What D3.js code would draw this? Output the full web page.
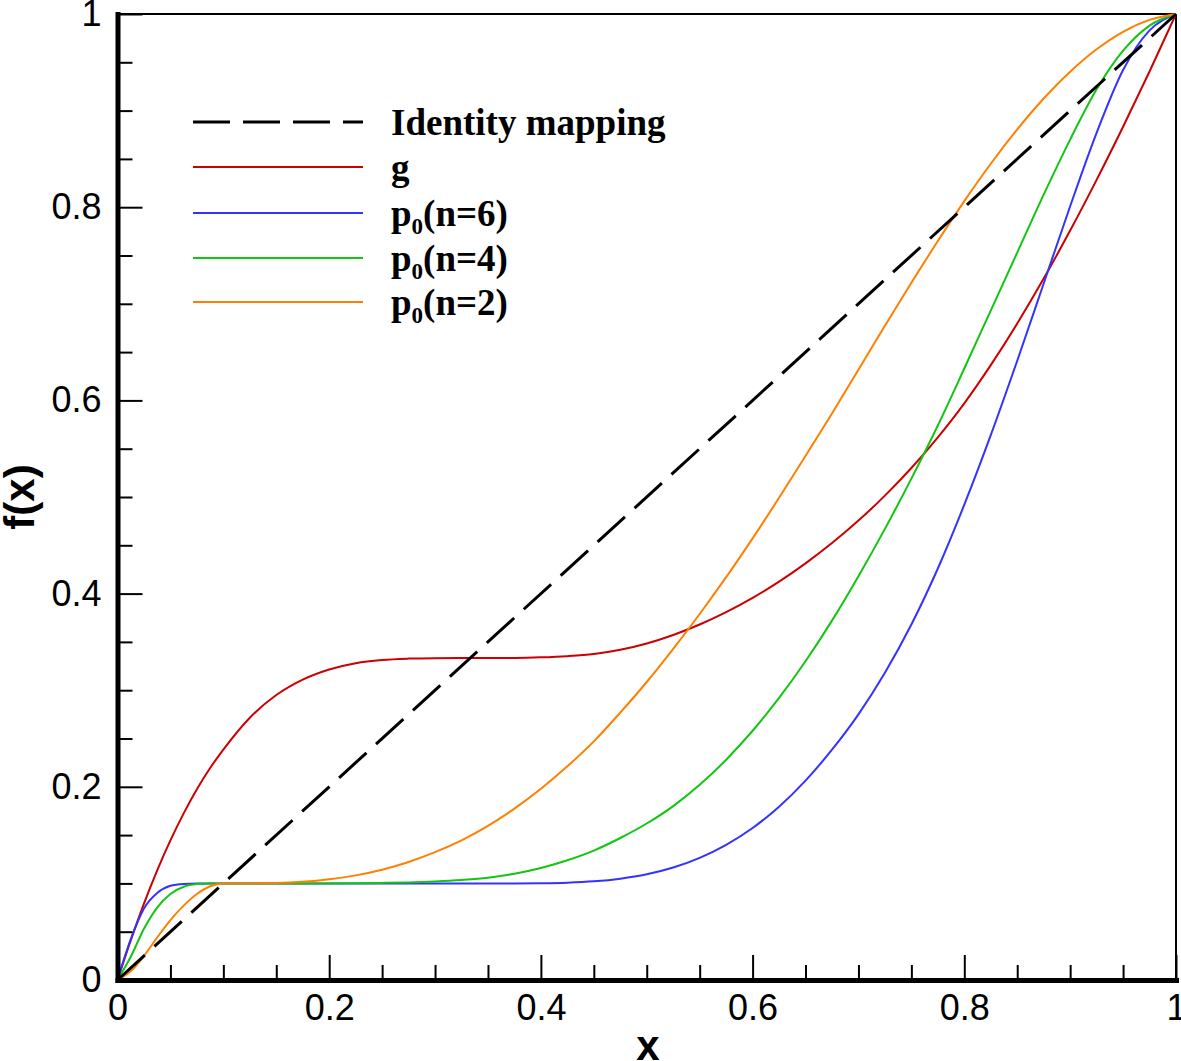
<!DOCTYPE html>
<html>
<head>
<meta charset="utf-8">
<script src="https://cdn.jsdelivr.net/npm/d3@7"></script>
<style>
  html, body { margin: 0; padding: 0; background: #ffffff; }
  svg { display: block; }
</style>
</head>
<body>
<script>
// ---------------- data ----------------
const xGrid = [0, 0.0125, 0.025, 0.0375, 0.05, 0.0625, 0.075, 0.0875,
  0.1, 0.125, 0.15, 0.175, 0.2, 0.225, 0.25, 0.275, 0.3, 0.325, 0.35, 0.375,
  0.4, 0.425, 0.45, 0.475, 0.5, 0.525, 0.55, 0.575, 0.6, 0.625, 0.65, 0.675,
  0.7, 0.725, 0.75, 0.775, 0.8, 0.825, 0.85, 0.875, 0.9, 0.925, 0.95, 0.975, 1];

const identityX = [0, 1];
const identityY = [0, 1];

const gValues = [0, 0.041, 0.079, 0.1135, 0.1445, 0.1725, 0.1975, 0.2195,
  0.2385, 0.2715, 0.295, 0.311, 0.3215, 0.328, 0.3313, 0.3327, 0.3332, 0.3333, 0.3333, 0.3334,
  0.334, 0.3352, 0.3374, 0.3418, 0.3484, 0.3572, 0.368, 0.3808, 0.3956, 0.4124, 0.4313, 0.4523,
  0.4756, 0.5014, 0.53, 0.5618, 0.597, 0.6365, 0.6796, 0.7261, 0.7758, 0.8283, 0.8833, 0.9405, 1.0];

const p0n6 = [0, 0.042, 0.074, 0.090, 0.0975, 0.0995, 0.1, 0.1,
  0.1, 0.1, 0.1, 0.1, 0.1, 0.1, 0.1, 0.1, 0.1, 0.1, 0.1, 0.1,
  0.1002, 0.1008, 0.1022, 0.1049, 0.1094, 0.1164, 0.1264, 0.1399, 0.1574, 0.1794, 0.2064, 0.2384,
  0.275, 0.318, 0.368, 0.426, 0.492, 0.564, 0.641, 0.721, 0.801, 0.877, 0.942, 0.983, 1.0];

const p0n4 = [0, 0.024, 0.053, 0.075, 0.089, 0.0965, 0.0993, 0.1,
  0.1, 0.1, 0.1, 0.1, 0.1, 0.1002, 0.1005, 0.101, 0.102, 0.1035, 0.1058, 0.110,
  0.116, 0.124, 0.134, 0.147, 0.162, 0.180, 0.202, 0.228, 0.258, 0.292, 0.330, 0.372,
  0.418, 0.467, 0.519, 0.574, 0.633, 0.693, 0.753, 0.813, 0.870, 0.922, 0.962, 0.988, 1.0];

const p0n2 = [0, 0.009, 0.025, 0.044, 0.062, 0.077, 0.089, 0.097,
  0.1, 0.1, 0.1003, 0.1016, 0.1042, 0.1083, 0.1142, 0.1222, 0.1323, 0.1446, 0.1596, 0.1774,
  0.198, 0.2212, 0.247, 0.2768, 0.3085, 0.3428, 0.3789, 0.417, 0.4572, 0.4992, 0.5425, 0.5864,
  0.6318, 0.6772, 0.7217, 0.765, 0.8063, 0.845, 0.8805, 0.9125, 0.9403, 0.9635, 0.9816, 0.9939, 1.0];

const majorTicks = [0, 0.2, 0.4, 0.6, 0.8, 1];
const minorTicks = [0.05, 0.1, 0.15, 0.25, 0.3, 0.35, 0.45, 0.5, 0.55, 0.65, 0.7, 0.75, 0.85, 0.9, 0.95];

const legendNames = ["Identity mapping", "g", "p0(n=6)", "p0(n=4)", "p0(n=2)"];
const seriesColors = ["#000000", "#cc0000", "#3333ff", "#11c611", "#ff8000"];
const xTitle = "x";
const yTitle = "f(x)";

// ---------------- drawing ----------------
const W = 1181, H = 1061;
const svg = d3.select("body").append("svg")
  .attr("width", W).attr("height", H)
  .attr("viewBox", `0 0 ${W} ${H}`);

const x = d3.scaleLinear().domain([0, 1]).range([117.5, 1176]);
const y = d3.scaleLinear().domain([0, 1]).range([980, 14]);

const tickFont = "'Liberation Sans', Arial, Helvetica, sans-serif";
const serifFont = "'Liberation Serif', 'Times New Roman', Times, serif";

// frame (top & right thin)
svg.append("line").attr("x1", x(0)).attr("x2", x(1)).attr("y1", y(1)).attr("y2", y(1))
  .attr("stroke", "#000").attr("stroke-width", 2);
svg.append("line").attr("x1", x(1)).attr("x2", x(1)).attr("y1", y(0)).attr("y2", y(1))
  .attr("stroke", "#000").attr("stroke-width", 2);

// curves
const line = d3.line().x(d => x(d[0])).y(d => y(d[1])).curve(d3.curveMonotoneX);
const curveSeries = [
  { vals: gValues, color: seriesColors[1] },
  { vals: p0n6, color: seriesColors[2] },
  { vals: p0n4, color: seriesColors[3] },
  { vals: p0n2, color: seriesColors[4] }
];
const curves = svg.append("g").attr("fill", "none");
curveSeries.forEach(s => {
  curves.append("path")
    .attr("d", line(xGrid.map((xv, i) => [xv, s.vals[i]])))
    .attr("stroke", s.color)
    .attr("stroke-width", 2)
    .attr("stroke-linejoin", "round");
});
// identity dashed
svg.append("path")
  .attr("d", d3.line().x(d => x(d[0])).y(d => y(d[1]))(identityX.map((v, i) => [v, identityY[i]])))
  .attr("fill", "none").attr("stroke", seriesColors[0])
  .attr("stroke-width", 3).attr("stroke-dasharray", "37,13");

// axes
const fmt = d3.format("~g");
const xAxisG = svg.append("g").attr("transform", `translate(0,${y(0)})`);
xAxisG.call(d3.axisBottom(x).tickValues(minorTicks).tickFormat("").tickSizeInner(-15).tickSizeOuter(0));
xAxisG.select(".domain").remove();
const xMajor = svg.append("g").attr("transform", `translate(0,${y(0)})`)
  .call(d3.axisBottom(x).tickValues(majorTicks).tickFormat(fmt).tickSizeInner(-25).tickSizeOuter(0).tickPadding(14));

const yAxisG = svg.append("g").attr("transform", `translate(${x(0)},0)`);
yAxisG.call(d3.axisLeft(y).tickValues(minorTicks).tickFormat("").tickSizeInner(-15).tickSizeOuter(0));
yAxisG.select(".domain").remove();
const yMajor = svg.append("g").attr("transform", `translate(${x(0)},0)`)
  .call(d3.axisLeft(y).tickValues(majorTicks).tickFormat(fmt).tickSizeInner(-25).tickSizeOuter(0).tickPadding(16));

[xAxisG, yAxisG, xMajor, yMajor].forEach(g => {
  g.selectAll(".tick line").attr("stroke", "#000").attr("stroke-width", 2);
});
[xMajor, yMajor].forEach(g => {
  g.select(".domain").attr("stroke", "#000").attr("stroke-width", 5).attr("stroke-linecap", "square");
  g.selectAll(".tick text").attr("font-family", tickFont).attr("font-size", 36).attr("fill", "#000");
});
yMajor.raise(); xMajor.raise();

// axis titles
svg.append("text").attr("x", 648).attr("y", 1060)
  .attr("text-anchor", "middle").attr("font-family", tickFont)
  .attr("font-weight", "bold").attr("font-size", 42).text(xTitle);
svg.append("text").attr("transform", "translate(34,497) rotate(-90)")
  .attr("text-anchor", "middle").attr("font-family", tickFont)
  .attr("font-weight", "bold").attr("font-size", 42).text(yTitle);

// legend
const legendRows = [122, 167, 213, 258, 302];
const legend = svg.append("g");
legendNames.forEach((name, i) => {
  const ly = legendRows[i];
  const l = legend.append("line").attr("x1", 193).attr("x2", 363).attr("y1", ly).attr("y2", ly)
    .attr("stroke", seriesColors[i]);
  if (i === 0) l.attr("stroke-width", 3).attr("stroke-dasharray", "37,13");
  else l.attr("stroke-width", 2);
  const t = legend.append("text").attr("x", 391).attr("y", ly + 13)
    .attr("font-family", serifFont).attr("font-weight", "bold").attr("font-size", 37).attr("fill", "#000");
  const m = name.match(/^p0(\(.*\))$/);
  if (m) {
    t.append("tspan").text("p");
    t.append("tspan").attr("font-size", 23).attr("dy", 8).text("0");
    t.append("tspan").attr("dy", -8).text(m[1]);
  } else {
    t.text(name);
  }
});
</script>
</body>
</html>
